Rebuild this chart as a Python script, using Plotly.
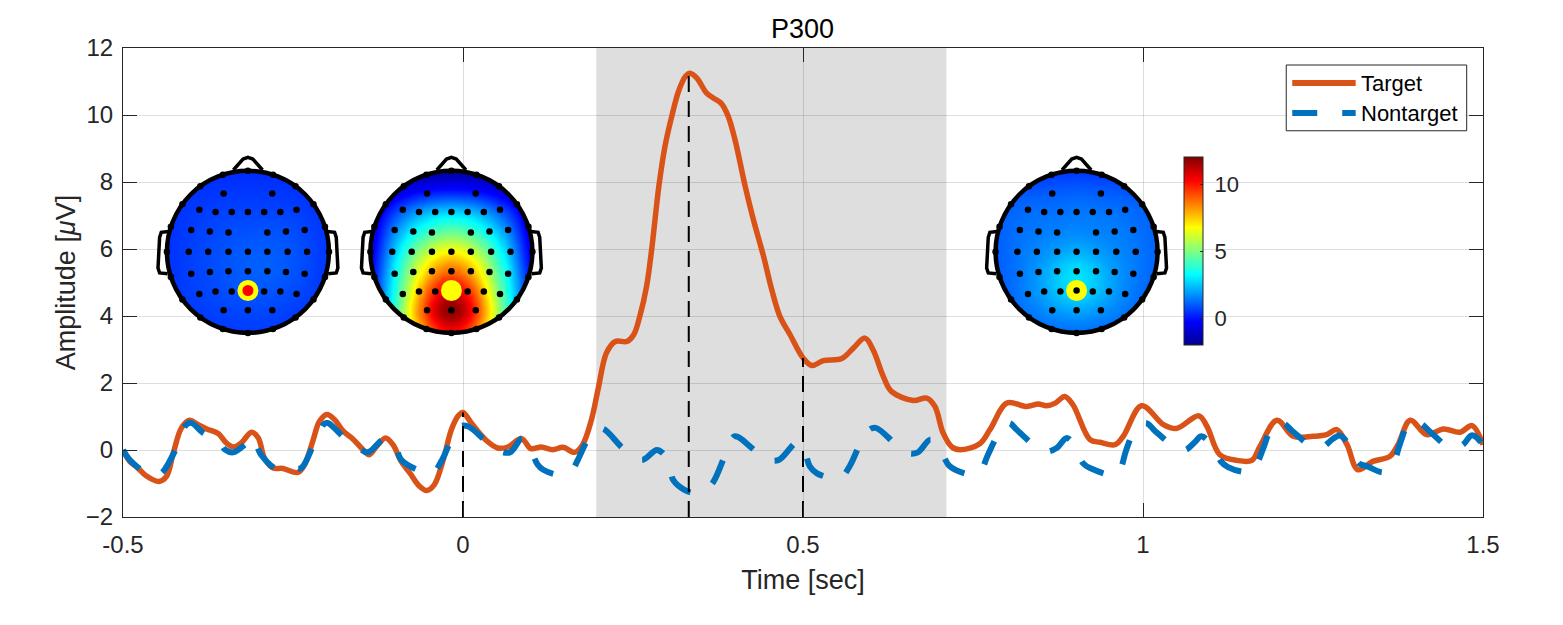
import numpy as np
import plotly.graph_objects as go

# Line data
target_t = [-0.5, -0.49, -0.478, -0.466, -0.447, -0.436, -0.426, -0.414, -0.402, -0.39, -0.377, -0.36, -0.348, -0.337,
            -0.326, -0.311, -0.301, -0.292, -0.279, -0.265, -0.243, -0.233, -0.221, -0.211, -0.2, -0.189, -0.176,
            -0.162, -0.147, -0.138, -0.127, -0.114, -0.103, -0.091, -0.078, -0.064, -0.053, -0.042, -0.029, -0.017,
            -0.007, 0.0, 0.012, 0.034, 0.051, 0.066, 0.086, 0.1, 0.115, 0.132, 0.147, 0.164, 0.176, 0.189, 0.199,
            0.211, 0.224, 0.241, 0.251, 0.26, 0.27, 0.278, 0.288, 0.297, 0.307, 0.317, 0.327, 0.334, 0.344, 0.358,
            0.368, 0.38, 0.39, 0.4, 0.415, 0.427, 0.442, 0.454, 0.466, 0.481, 0.5, 0.513, 0.53, 0.557, 0.574, 0.591,
            0.603, 0.618, 0.63, 0.662, 0.682, 0.694, 0.706, 0.719, 0.731, 0.76, 0.775, 0.8, 0.829, 0.846, 0.858,
            0.871, 0.885, 0.897, 0.922, 0.937, 0.959, 0.971, 0.998, 1.03, 1.049, 1.082, 1.094, 1.113, 1.138, 1.16,
            1.172, 1.197, 1.221, 1.25, 1.27, 1.285, 1.3, 1.316, 1.338, 1.363, 1.375, 1.393, 1.417, 1.442, 1.466,
            1.484, 1.5]
target_v = [0.0, -0.34, -0.54, -0.77, -0.94, -0.79, -0.09, 0.66, 0.89, 0.76, 0.63, 0.49, 0.21, 0.09,
            0.21, 0.53, 0.36, -0.24, -0.54, -0.55, -0.67, -0.44, 0.26, 0.86, 1.06, 0.91, 0.56,
            0.33, 0.01, -0.14, 0.11, 0.36, 0.16, -0.34, -0.69, -1.08, -1.21, -1.03, -0.29, 0.61,
            1.02, 1.12, 0.81, 0.29, 0.06, 0.09, 0.34, 0.04, 0.09, 0.01, 0.08, -0.07, 0.16, 0.91, 1.85,
            2.9, 3.24, 3.24, 3.44, 3.99, 4.89, 6.08, 7.87, 9.06, 9.96, 10.71, 11.15, 11.25, 11.1, 10.66,
            10.51, 10.34, 9.96, 9.26, 7.87, 6.88, 5.78, 4.79, 3.99, 3.44, 2.75, 2.52, 2.67, 2.73, 3.04, 3.34,
            2.99, 2.2, 1.75, 1.48, 1.55, 1.3, 0.51, 0.09, 0.01, 0.19, 0.61, 1.4, 1.3, 1.37, 1.32,
            1.4, 1.6, 1.35, 0.31, 0.23, 0.16, 0.41, 1.32, 0.76, 0.64, 1.02, 0.71, -0.14, -0.31, -0.31,
            0.11, 0.89, 0.41, 0.41, 0.46, 0.61, 0.16, -0.59, -0.34, -0.19, 0.16, 0.89, 0.46, 0.63, 0.53,
            0.73, 0.16]

nontarget_t = [-0.5, -0.49, -0.478, -0.466, -0.447, -0.441, -0.424, -0.409, -0.4, -0.382, -0.36, -0.35, -0.338, -0.321,
               -0.31, -0.297, -0.272, -0.25, -0.238, -0.221, -0.21, -0.201, -0.174, -0.155, -0.14, -0.114, -0.1,
               -0.091, -0.061, -0.045, -0.032, -0.017, -0.005, 0.007, 0.034, 0.05, 0.069, 0.086, 0.093, 0.1, 0.11,
               0.118, 0.142, 0.16, 0.169, 0.184, 0.195, 0.206, 0.233, 0.25, 0.265, 0.285, 0.297, 0.305, 0.309, 0.325,
               0.34, 0.355, 0.367, 0.383, 0.392, 0.4, 0.431, 0.45, 0.465, 0.491, 0.5, 0.51, 0.52, 0.543, 0.557, 0.569,
               0.585, 0.597, 0.607, 0.637, 0.655, 0.669, 0.687, 0.697, 0.707, 0.716, 0.751, 0.762, 0.772, 0.789,
               0.803, 0.814, 0.843, 0.858, 0.873, 0.888, 0.901, 0.912, 0.922, 0.959, 0.968, 0.975, 0.99, 1.005, 1.018,
               1.047, 1.062, 1.076, 1.086, 1.104, 1.115, 1.125, 1.147, 1.16, 1.17, 1.177, 1.192, 1.206, 1.22, 1.25,
               1.265, 1.279, 1.29, 1.307, 1.318, 1.33, 1.353, 1.364, 1.372, 1.378, 1.393, 1.408, 1.424, 1.454, 1.47,
               1.484, 1.5]
nontarget_v = [0.0, -0.3, -0.52, -0.7, -0.72, -0.64, -0.04, 0.71, 0.81, 0.51, 0.3, 0.01, -0.07, 0.16,
               0.4, -0.14, -0.59, -0.55, -0.54, 0.11, 0.6, 0.81, 0.36, 0.1, -0.07, 0.36, 0.15,
               -0.29, -0.64, -0.7, -0.34, 0.31, 0.7, 0.71, 0.26, 0.0, -0.07, 0.34, 0.29, 0.0, -0.44,
               -0.59, -0.74, -0.6, -0.29, 0.34, 0.6, 0.63, 0.09, -0.2, -0.29, 0.0, -0.17, -0.6, -0.89, -1.18,
               -1.28, -1.2, -0.99, -0.27, 0.2, 0.41, -0.04, -0.3, -0.29, 0.23, 0.1, -0.49, -0.69, -0.84, -0.8, -0.47,
               0.23, 0.6, 0.66, 0.16, -0.1, -0.07, 0.31, 0.19, -0.2, -0.49, -0.74, -0.6, -0.14, 0.53,
               0.8, 0.61, 0.09, -0.05, 0.06, 0.36, 0.06, -0.4, -0.54, -0.74, -0.5, -0.02, 0.66, 0.8, 0.56,
               0.09, 0.0, 0.23, 0.41, 0.06, -0.35, -0.51, -0.65, -0.64, -0.3, 0.06, 0.76, 0.8, 0.56, 0.09,
               0.1, 0.33, 0.43, 0.01, -0.4, -0.49, -0.67, -0.56, -0.2, 0.19, 0.86, 0.8, 0.51, 0.04, 0.15,
               0.44, 0.16]

# Dashed markers and the shaded window
marker_times = [0.0, 0.332, 0.5]
marker_tops = [1.12, 11.25, 2.75]
window_start = 0.196
window_end = 0.711

# Scalp values on a 9x9 grid, top row first, left to right
head_0ms = [
    [0.3, 0.3, 0.3, 0.3, 0.3, 0.3, 0.3, 0.3, 0.3],
    [0.4, 0.4, 0.45, 0.5, 0.5, 0.5, 0.45, 0.4, 0.4],
    [0.4, 0.5, 0.6, 0.65, 0.65, 0.65, 0.65, 0.55, 0.4],
    [0.4, 0.55, 0.7, 0.8, 0.85, 0.9, 0.85, 0.65, 0.45],
    [0.4, 0.6, 0.75, 0.9, 1.0, 1.05, 0.95, 0.75, 0.45],
    [0.4, 0.6, 0.75, 0.9, 1.05, 1.1, 0.95, 0.7, 0.45],
    [0.4, 0.6, 0.7, 0.85, 0.9, 0.9, 0.8, 0.65, 0.4],
    [0.4, 0.5, 0.6, 0.65, 0.7, 0.7, 0.6, 0.5, 0.4],
    [0.3, 0.4, 0.5, 0.55, 0.55, 0.55, 0.5, 0.4, 0.3],
]
head_332ms = [
    [-2.0, -2.0, -2.0, -2.0, -2.0, -2.0, -2.0, -2.0, -2.0],
    [-1.8, -1.2, -0.5, -0.1, 0.0, -0.1, -0.5, -1.2, -1.8],
    [-1.4, 0.3, 1.6, 2.4, 2.7, 2.4, 1.6, 0.3, -1.4],
    [-1.2, 1.3, 3.0, 4.2, 4.7, 4.2, 3.0, 1.3, -1.2],
    [-1.0, 2.0, 4.4, 6.2, 7.0, 6.2, 4.4, 2.0, -1.0],
    [-0.8, 2.6, 5.4, 8.0, 9.2, 8.0, 5.4, 2.6, -0.7],
    [-0.4, 2.8, 6.2, 9.8, 11.2, 9.8, 6.2, 2.8, -0.2],
    [0.0, 3.0, 7.0, 10.8, 12.8, 10.8, 7.0, 3.0, 0.0],
    [0.5, 3.0, 6.2, 9.0, 10.2, 9.0, 6.2, 3.0, 0.5],
]
head_500ms = [
    [0.3, 0.3, 0.3, 0.4, 0.4, 0.4, 0.3, 0.3, 0.3],
    [0.8, 0.9, 1.0, 1.0, 1.1, 1.0, 1.0, 0.9, 0.8],
    [1.0, 1.2, 1.3, 1.3, 1.4, 1.4, 1.3, 1.2, 1.0],
    [1.0, 1.3, 1.4, 1.5, 1.6, 1.5, 1.5, 1.3, 1.1],
    [1.0, 1.3, 1.6, 1.9, 2.2, 1.9, 1.6, 1.4, 1.1],
    [1.0, 1.3, 1.8, 2.5, 3.1, 2.5, 1.8, 1.4, 1.1],
    [0.9, 1.3, 1.8, 2.5, 3.0, 2.5, 1.8, 1.3, 1.0],
    [0.9, 1.2, 1.5, 1.8, 2.0, 1.8, 1.5, 1.2, 1.0],
    [0.8, 1.0, 1.1, 1.2, 1.2, 1.2, 1.1, 1.0, 0.8],
]

# Electrode layout, in head radii
rim_angles = list(range(0, 360, 18))
inner_x = [-0.3, 0.3,
           -0.6, -0.4, -0.2, 0.0, 0.2, 0.4, 0.6,
           -0.7, -0.47, -0.24, 0.24, 0.47, 0.7,
           -0.73, -0.49, -0.24, 0.0, 0.24, 0.49, 0.73,
           -0.7, -0.47, -0.24, 0.0, 0.24, 0.47, 0.7,
           -0.6, -0.4, -0.2, 0.0, 0.2, 0.4, 0.6,
           -0.3, 0.0, 0.3]
inner_y = [0.72, 0.72,
           0.52, 0.49, 0.49, 0.49, 0.49, 0.49, 0.52,
           0.27, 0.25, 0.24, 0.24, 0.25, 0.27,
           0.0, 0.0, 0.0, 0.0, 0.0, 0.0, 0.0,
           -0.27, -0.25, -0.24, -0.24, -0.24, -0.25, -0.27,
           -0.52, -0.49, -0.49, -0.48, -0.49, -0.49, -0.52,
           -0.72, -0.72, -0.72]
peak_x = 0.0
peak_y = -0.477

nose_x = [-0.18, -0.06, 0.0, 0.06, 0.18]
nose_y = [1.01, 1.145, 1.165, 1.145, 1.01]
ear_x = [0.98, 1.07, 1.09, 1.11, 1.09, 0.99]
ear_y = [0.25, 0.24, 0.18, -0.2, -0.26, -0.27]

heads = [
    dict(label="0 ms", values=head_0ms, cx=248.3, inner="#FF0000"),
    dict(label="332 ms", values=head_332ms, cx=451.7, inner="#FFFF00"),
    dict(label="500 ms", values=head_500ms, cx=1076.7, inner="#000000"),
]

jet = [[0, "#00008F"], [0.125, "#0000FF"], [0.375, "#00FFFF"], [0.625, "#FFFF00"], [0.875, "#FF0000"], [1, "#800000"]]
font_name = "Liberation Sans"
dark = "#262626"
target_color = "#D95319"
nontarget_color = "#0072BD"
nontarget_dash = "25.2px,25px"

# Plot area in pixels. The page puts the figure 8px in from its corner.
page_pad = 8
left, right, top, bottom = 123.4, 1483.0, 48.3, 517.0
plot_w = right - left
plot_h = bottom - top
head_r = 81
head_span = 1.25
head_cy = 252


def px_x(px):
    return (px - left) / plot_w


def px_y(py):
    return (bottom - py) / plot_h


def fine_map(values):
    # topoplot style fill: resample the coarse grid, soften it, cut to the head circle
    coarse = np.linspace(-1, 1, 9)
    fine = np.linspace(-1, 1, 161)
    z = np.array(values, dtype=float)[::-1]
    z = np.array([np.interp(fine, coarse, row) for row in z])
    z = np.array([np.interp(fine, coarse, col) for col in z.T]).T
    kernel = np.ones(15) / 15
    for _ in range(2):
        z = np.array([np.convolve(np.pad(r, 7, mode="edge"), kernel, mode="valid") for r in z])
        z = np.array([np.convolve(np.pad(c, 7, mode="edge"), kernel, mode="valid") for c in z.T]).T
    xx, yy = np.meshgrid(fine, fine)
    z[xx ** 2 + yy ** 2 > 1.0] = np.nan
    return fine, z


fig = go.Figure()

fig.add_trace(go.Scatter(x=target_t, y=target_v, name="Target", mode="lines", showlegend=False,
                         line=dict(color=target_color, width=5.5, shape="spline", smoothing=1)))
fig.add_trace(go.Scatter(x=nontarget_t, y=nontarget_v, name="Nontarget", mode="lines", showlegend=False,
                         line=dict(color=nontarget_color, width=6, shape="spline", smoothing=1, dash=nontarget_dash)))

for t, v in zip(marker_times, marker_tops):
    fig.add_trace(go.Scatter(x=[t, t], y=[-2, v], mode="lines", showlegend=False,
                             line=dict(color="black", width=2, dash="16px,9px")))

fig.add_shape(type="rect", x0=window_start, x1=window_end, y0=-2, y1=12, xref="x", yref="y",
              fillcolor="#DEDEDE", line_width=0, layer="below")

rim_x = [np.sin(np.radians(a)) for a in rim_angles]
rim_y = [np.cos(np.radians(a)) for a in rim_angles]
layout_axes = {}
for i, head in enumerate(heads):
    n = i + 2
    xa, ya = f"x{n}", f"y{n}"
    half = head_r * head_span
    layout_axes[f"xaxis{n}"] = dict(domain=[px_x(head["cx"] - half), px_x(head["cx"] + half)],
                                    range=[-head_span, head_span], visible=False, anchor=ya)
    layout_axes[f"yaxis{n}"] = dict(domain=[px_y(head_cy + half), px_y(head_cy - half)],
                                    range=[-head_span, head_span], visible=False, anchor=xa)

    grid, z = fine_map(head["values"])
    fig.add_trace(go.Heatmap(x=grid, y=grid, z=z, coloraxis="coloraxis", hoverinfo="skip",
                             xaxis=xa, yaxis=ya, showlegend=False))
    fig.add_shape(type="circle", x0=-1, x1=1, y0=-1, y1=1, xref=xa, yref=ya,
                  line=dict(color="black", width=4.5), layer="above")
    fig.add_trace(go.Scatter(x=nose_x, y=nose_y, mode="lines", line=dict(color="black", width=3.5),
                             xaxis=xa, yaxis=ya, showlegend=False))
    for side in (-1, 1):
        fig.add_trace(go.Scatter(x=[side * e for e in ear_x], y=ear_y, mode="lines",
                                 line=dict(color="black", width=3.5), xaxis=xa, yaxis=ya, showlegend=False))
    fig.add_trace(go.Scatter(x=rim_x + inner_x, y=rim_y + inner_y, mode="markers",
                             marker=dict(color="black", size=6.5), xaxis=xa, yaxis=ya, showlegend=False))
    fig.add_trace(go.Scatter(x=[peak_x], y=[peak_y], mode="markers",
                             marker=dict(color="#FFFF00", size=21), xaxis=xa, yaxis=ya, showlegend=False))
    inner_size = {"#FF0000": 11, "#000000": 6.5}.get(head["inner"], 0)
    if inner_size:
        fig.add_trace(go.Scatter(x=[peak_x], y=[peak_y], mode="markers",
                                 marker=dict(color=head["inner"], size=inner_size),
                                 xaxis=xa, yaxis=ya, showlegend=False))
    fig.add_annotation(text=head["label"], x=0, y=1.42, xref=xa, yref=ya, showarrow=False,
                       font=dict(family=font_name, size=27, color="black"))

# Legend box, drawn by hand so the rows sit as close together as in the reference
fig.add_shape(type="rect", x0=px_x(1286.3), x1=px_x(1466.7), y0=px_y(131), y1=px_y(65.3), xref="x domain", yref="y domain",
              fillcolor="white", line=dict(color=dark, width=1), layer="above")
legend_rows = [("Target", target_color, 83.3, "solid"), ("Nontarget", nontarget_color, 113.3, "25px,25px")]
for label, color, row_y, dash in legend_rows:
    fig.add_shape(type="line", x0=px_x(1292.3), x1=px_x(1355.7), y0=px_y(row_y), y1=px_y(row_y),
                  xref="x domain", yref="y domain", line=dict(color=color, width=6, dash=dash), layer="above")
    fig.add_annotation(text=label, x=px_x(1359), y=px_y(row_y), xref="x domain", yref="y domain", xanchor="left",
                       yanchor="middle", showarrow=False, font=dict(family=font_name, size=22, color="black"))

fig.update_layout(
    width=1563 - page_pad, height=625 - page_pad,
    margin=dict(l=left - page_pad, r=1563 - right, t=top - page_pad, b=625 - bottom, autoexpand=False),
    paper_bgcolor="white", plot_bgcolor="rgba(0,0,0,0)",
    font=dict(family=font_name, size=24, color=dark),
    title=dict(text="P300", x=(802.5 - page_pad) / (1563 - page_pad), xanchor="center",
               y=1 - (29 - page_pad) / (625 - page_pad), yanchor="middle",
               font=dict(family=font_name, size=27, color="black")),
    showlegend=False,
    coloraxis=dict(
        cmin=-2, cmax=12, colorscale=jet,
        colorbar=dict(x=px_x(1184.3), xanchor="left", y=px_y(345.3), yanchor="bottom",
                      len=188 / plot_h, lenmode="fraction", thickness=19.4, xpad=0, ypad=0,
                      outlinecolor=dark, outlinewidth=1, tickvals=[0, 5, 10], ticks="inside", ticklen=3,
                      ticktext=["\u00a00", "\u00a05", "\u00a010"],
                      tickcolor=dark, tickfont=dict(family=font_name, size=22, color=dark)),
    ),
    xaxis=dict(range=[-0.5, 1.5], domain=[0, 1], tickvals=[-0.5, 0, 0.5, 1, 1.5],
               ticktext=["-0.5", "0", "0.5", "1", "1.5"], ticks="inside", ticklen=14, tickcolor=dark,
               showline=True, linecolor=dark, linewidth=1, mirror="ticks", ticklabelstandoff=6,
               showgrid=True, gridcolor="rgba(0,0,0,0.13)", gridwidth=1, zeroline=False,
               tickfont=dict(size=24, color=dark),
               title=dict(text="Time [sec]", font=dict(size=27, color=dark), standoff=13)),
    yaxis=dict(range=[-2, 12], domain=[0, 1], tickvals=list(range(-2, 13, 2)), ticks="inside", ticklen=14,
               tickcolor=dark, showline=True, linecolor=dark, linewidth=1, mirror="ticks", ticklabelstandoff=4,
               showgrid=True, gridcolor="rgba(0,0,0,0.13)", gridwidth=1, zeroline=False,
               tickfont=dict(size=24, color=dark),
               title=dict(text="Amplitude [<i>μ</i>V]", font=dict(size=27, color=dark), standoff=2)),
    **layout_axes,
)

fig.write_html("out.html")
